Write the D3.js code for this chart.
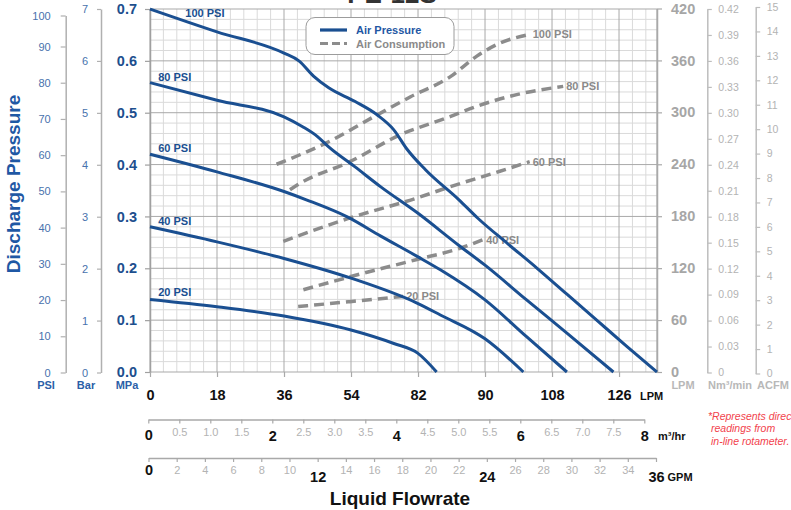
<!DOCTYPE html>
<html>
<head>
<meta charset="utf-8">
<script src="https://cdn.jsdelivr.net/npm/d3@7"></script>
<style>
  body { margin: 0; background: #fff; }
  svg { display: block; font-family: "Liberation Sans", Arial, Helvetica, sans-serif; }
</style>
</head>
<body>
<svg id="chart" width="791" height="510"></svg>
<script>
// ---- Pump performance data -------------------------------------------
// Discharge pressure curves (liquid flow in LPM, pressure in MPa)
const p100Flow = [0, 18, 36, 40, 44, 48, 55, 61, 65.5, 69, 74, 83, 88, 96, 104, 112, 120, 128, 136.2];
const p100MPa  = [0.70, 0.656, 0.615, 0.600, 0.570, 0.548, 0.522, 0.496, 0.467, 0.430, 0.390, 0.332, 0.297, 0.248, 0.200, 0.150, 0.100, 0.050, 0];
const p80Flow  = [0, 18, 36, 41, 45, 48, 55, 62, 72, 83, 90, 101, 112, 124.5];
const p80MPa   = [0.558, 0.524, 0.492, 0.473, 0.454, 0.434, 0.396, 0.357, 0.306, 0.244, 0.206, 0.140, 0.075, 0];
const p60Flow  = [0, 18, 36, 42, 53, 62, 72, 78, 90, 101, 112];
const p60MPa   = [0.420, 0.386, 0.348, 0.332, 0.299, 0.262, 0.222, 0.197, 0.139, 0.069, 0];
const p40Flow  = [0, 18, 36, 54, 72, 78, 90, 100.3];
const p40MPa   = [0.280, 0.251, 0.219, 0.181, 0.132, 0.110, 0.064, 0];
const p20Flow  = [0, 18, 36, 54, 65.5, 72, 77];
const p20MPa   = [0.140, 0.126, 0.108, 0.081, 0.055, 0.036, 0];
const pressureNames = ["100 PSI", "80 PSI", "60 PSI", "40 PSI", "20 PSI"];
const pressureLabelAt = [9.5, 2.2, 2.2, 2.2, 2.2];   // LPM where each curve name sits

// Air consumption curves (liquid flow in LPM, air in LPM)
const a100Flow = [34, 40.3, 47.5, 61, 70, 80.6, 87.8, 94, 102];
const a100Air  = [240, 251, 265, 297, 318, 341, 365, 380, 390];
const a80Flow  = [37.6, 40.3, 53.7, 67.2, 80.6, 87.8, 98.5, 111];
const a80Air   = [210.6, 218, 243, 274, 295, 307, 320.5, 330];
const a60Flow  = [35.8, 53.7, 71.7, 80.6, 94, 102];
const a60Air   = [151, 178, 201, 214, 232, 243];
const a40Flow  = [41.2, 53.7, 71.7, 83.3, 89.5];
const a40Air   = [95, 110, 130, 143, 153];
const a20Flow  = [39.8, 53.7, 68];
const a20Air   = [75.6, 81.3, 87.4];

// Axis ticks and labels
const psiTicks   = [0, 10, 20, 30, 40, 50, 60, 70, 80, 90, 100];
const barTicks   = [0, 1, 2, 3, 4, 5, 6, 7];
const mpaTicks   = [0, 0.1, 0.2, 0.3, 0.4, 0.5, 0.6, 0.7];
const airTicks   = [0, 60, 120, 180, 240, 300, 360, 420];
const nmTicks    = [0, 0.03, 0.06, 0.09, 0.12, 0.15, 0.18, 0.21, 0.24, 0.27, 0.30, 0.33, 0.36, 0.39, 0.42];
const acfmTicks  = [0, 1, 2, 3, 4, 5, 6, 7, 8, 9, 10, 11, 12, 13, 14, 15];
const lpmTicks   = [0, 18, 36, 54, 72, 90, 108, 126];
const lpmLabels  = ["0", "18", "36", "54", "82", "90", "108", "126"];
const m3Ticks    = [0, 0.5, 1, 1.5, 2, 2.5, 3, 3.5, 4, 4.5, 5, 5.5, 6, 6.5, 7, 7.5, 8];
const m3Major    = [0, 2, 4, 6, 8];
const gpmTicks   = [0, 2, 4, 6, 8, 10, 12, 14, 16, 18, 20, 22, 24, 26, 28, 30, 32, 34, 36];
const gpmMajor   = [0, 12, 24, 36];

// ---- Colours ---------------------------------------------------------
const BLUE = "#1a4f91";
const AXIS_BLUE = "#4872ad";
const DASH_GREY = "#8c8c8c";
const LIGHT = "#b3b3b3";

const svg = d3.select("#chart");

// ---- Scales ----------------------------------------------------------
const xMax = 136.2;
const x     = d3.scaleLinear().domain([0, xMax]).range([150, 657]);
const yMPa  = d3.scaleLinear().domain([0, 0.7]).range([372, 9]);
const yBar  = d3.scaleLinear().domain([0, 7]).range([372.5, 9]);
const yPSI  = d3.scaleLinear().domain([0, 90, 100]).range([372.5, 46.5, 15.5]);
const yAir  = d3.scaleLinear().domain([0, 420]).range([372, 8.5]);
const yNm   = d3.scaleLinear().domain([0, 0.42]).range([372.5, 9]);
const yAcfm = d3.scaleLinear().domain([0, 15]).range([373.5, 7]);
const xM3   = d3.scaleLinear().domain([0, 8]).range([148.3, 644.3]);
const xGPM  = d3.scaleLinear().domain([0, 36]).range([148.5, 656]);

// ---- Model name at the top (runs off the top edge) --------------------
svg.append("text").attr("x", 392).attr("y", 2.5).attr("text-anchor", "middle")
  .attr("font-size", 26).attr("font-weight", "bold").attr("fill", "#333")
  .text("PE-12S");

// ---- Grid ------------------------------------------------------------
const grid = svg.append("g");
const minorX = d3.range(0, xMax, 3.6).filter((v, i) => i % 5 !== 0);
const majorX = d3.range(0, xMax, 18);
const minorY = d3.range(0, 0.7001, 0.02).filter((v, i) => i % 5 !== 0);
const majorY = d3.range(0, 0.7001, 0.1);

grid.selectAll(".vmin").data(minorX).join("line")
  .attr("x1", d => x(d)).attr("x2", d => x(d)).attr("y1", yMPa(0)).attr("y2", yMPa(0.7))
  .attr("stroke", "#dadada").attr("stroke-width", 1);
grid.selectAll(".hmin").data(minorY).join("line")
  .attr("x1", x(0)).attr("x2", x(xMax)).attr("y1", d => yMPa(d)).attr("y2", d => yMPa(d))
  .attr("stroke", "#dadada").attr("stroke-width", 1);
grid.selectAll(".vmaj").data(majorX).join("line")
  .attr("x1", d => x(d)).attr("x2", d => x(d)).attr("y1", yMPa(0)).attr("y2", yMPa(0.7))
  .attr("stroke", "#a9a9a9").attr("stroke-width", 1);
grid.selectAll(".hmaj").data(majorY).join("line")
  .attr("x1", x(0)).attr("x2", x(xMax)).attr("y1", d => yMPa(d)).attr("y2", d => yMPa(d))
  .attr("stroke", "#a9a9a9").attr("stroke-width", 1);
grid.append("line").attr("x1", x(xMax)).attr("x2", x(xMax)).attr("y1", yMPa(0)).attr("y2", yMPa(0.7))
  .attr("stroke", "#a9a9a9").attr("stroke-width", 1.2);

// ---- Axis helper -----------------------------------------------------
function styleAxis(g, color, size, weight, lineColor) {
  g.attr("font-family", null).attr("font-size", null);
  g.select(".domain").attr("stroke", lineColor).attr("stroke-width", 1.5);
  g.selectAll(".tick line").attr("stroke", lineColor).attr("stroke-width", 1.2);
  g.selectAll(".tick text").attr("fill", color).attr("font-size", size).attr("font-weight", weight);
}

// Left axes: PSI, Bar, MPa
svg.append("g").attr("transform", "translate(65.7,0)")
  .call(d3.axisLeft(yPSI).tickValues(psiTicks).tickSize(5).tickSizeOuter(0).tickPadding(10)
    .tickFormat(d3.format("d")))
  .call(g => styleAxis(g, AXIS_BLUE, 11, "normal", "#b0b0b0"));
svg.append("g").attr("transform", "translate(101,0)")
  .call(d3.axisLeft(yBar).tickValues(barTicks).tickSize(4).tickSizeOuter(0).tickPadding(9)
    .tickFormat(d3.format("d")))
  .call(g => styleAxis(g, AXIS_BLUE, 11, "normal", "#b0b0b0"));
svg.append("g").attr("transform", "translate(150,0)")
  .call(d3.axisLeft(yMPa).tickValues(mpaTicks).tickSize(5).tickSizeOuter(0).tickPadding(8).tickFormat(d3.format(".1f")))
  .call(g => styleAxis(g, "#1d4f8e", 14.5, "bold", "#a0a0a0"));

// Right axes: air LPM, Nm³/min, ACFM
svg.append("g").attr("transform", "translate(657,0)")
  .call(d3.axisRight(yAir).tickValues(airTicks).tickSize(5).tickSizeOuter(0).tickPadding(9)
    .tickFormat(d3.format("d")))
  .call(g => styleAxis(g, "#a6a6a6", 14.5, "bold", "#a9a9a9"));
svg.append("g").attr("transform", "translate(707.3,0)")
  .call(d3.axisRight(yNm).tickValues(nmTicks).tickSize(4.5).tickSizeOuter(0).tickPadding(6.5)
    .tickFormat(d => d === 0 ? "0" : d.toFixed(2)))
  .call(g => styleAxis(g, LIGHT, 10.5, "normal", "#bdbdbd"));
svg.append("g").attr("transform", "translate(755.7,0)")
  .call(d3.axisRight(yAcfm).tickValues(acfmTicks).tickSize(4.5).tickSizeOuter(0).tickPadding(6.5)
    .tickFormat(d3.format("d")))
  .call(g => styleAxis(g, LIGHT, 10.5, "normal", "#bdbdbd"));

// Bottom liquid-flow axes
const lpmAxis = svg.append("g").attr("transform", "translate(0,372)")
  .call(d3.axisBottom(x).tickValues(lpmTicks).tickSize(5).tickSizeOuter(0)
    .tickFormat((d, i) => lpmLabels[i]));
styleAxis(lpmAxis, "#111", 14.5, "bold", "#a9a9a9");
lpmAxis.select(".domain").remove();
lpmAxis.selectAll(".tick text").attr("dy", null).attr("y", 28);

const m3Axis = svg.append("g").attr("transform", "translate(0,419.5)")
  .call(d3.axisBottom(xM3).tickValues(m3Ticks).tickSize(4).tickSizeOuter(0)
    .tickFormat(d => m3Major.includes(d) ? String(d) : d.toFixed(1)));
styleAxis(m3Axis, "#111", 14.5, "bold", "#a9a9a9");
m3Axis.selectAll(".tick text").attr("dy", null)
  .attr("y", d => m3Major.includes(d) ? (d === 0 ? 20.5 : 21.5) : 16.5)
  .attr("fill", d => m3Major.includes(d) ? "#111" : LIGHT)
  .attr("font-size", d => m3Major.includes(d) ? 14.5 : 11)
  .attr("font-weight", d => m3Major.includes(d) ? "bold" : "normal");

const gpmAxis = svg.append("g").attr("transform", "translate(0,458)")
  .call(d3.axisBottom(xGPM).tickValues(gpmTicks).tickSize(4).tickSizeOuter(0));
styleAxis(gpmAxis, "#111", 14.5, "bold", "#a9a9a9");
gpmAxis.selectAll(".tick text").attr("dy", null)
  .attr("y", d => gpmMajor.includes(d) ? (d === 0 ? 17 : 24) : 16)
  .attr("fill", d => gpmMajor.includes(d) ? "#111" : LIGHT)
  .attr("font-size", d => gpmMajor.includes(d) ? 14.5 : 11)
  .attr("font-weight", d => gpmMajor.includes(d) ? "bold" : "normal");

// Unit labels
function label(txt, lx, ly, opts) {
  const t = svg.append("text").attr("x", lx).attr("y", ly)
    .attr("font-size", opts.size || 11).attr("font-weight", opts.weight || "bold")
    .attr("fill", opts.fill).attr("text-anchor", opts.anchor || "start");
  if (opts.italic) t.attr("font-style", "italic");
  t.text(txt);
  return t;
}
label("PSI", 46, 389, { fill: "#2b5fa8", anchor: "middle" });
label("Bar", 86, 389, { fill: "#2b5fa8", anchor: "middle" });
label("MPa", 127, 389, { fill: "#2b5fa8", anchor: "middle" });
label("LPM", 683, 389, { fill: "#b8b8b8", anchor: "middle" });
label("Nm³/min", 730, 389, { fill: "#b8b8b8", anchor: "middle" });
label("ACFM", 773, 389, { fill: "#b8b8b8", anchor: "middle" });
label("LPM", 640, 399.5, { fill: "#111" });
label("m³/hr", 658, 440, { fill: "#111" });
label("GPM", 667.5, 481, { fill: "#111" });

// Axis titles
label("Liquid Flowrate", 400, 505, { fill: "#111", size: 19, anchor: "middle" });
svg.append("text").attr("transform", "translate(20,184) rotate(-90)")
  .attr("text-anchor", "middle").attr("font-size", 19).attr("font-weight", "bold")
  .attr("fill", "#1f58a4").text("Discharge Pressure");

// Footnote (runs past the right edge)
label("*Represents direct", 708, 419.5, { fill: "#f2434d", size: 10.5, weight: "normal", italic: true });
label("readings from", 711, 432, { fill: "#f2434d", size: 10.5, weight: "normal", italic: true });
label("in-line rotameter.", 711, 444.5, { fill: "#f2434d", size: 10.5, weight: "normal", italic: true });

// ---- Air consumption curves (dashed) ---------------------------------
const airSeries = [
  [a100Flow, a100Air], [a80Flow, a80Air], [a60Flow, a60Air], [a40Flow, a40Air], [a20Flow, a20Air]
];
const airLine = d3.line().x(d => x(d[0])).y(d => yAir(d[1])).curve(d3.curveMonotoneX);
airSeries.forEach(([fl, air], i) => {
  const pts = fl.map((f, j) => [f, air[j]]);
  svg.append("path").attr("d", airLine(pts)).attr("fill", "none")
    .attr("stroke", DASH_GREY).attr("stroke-width", 3.5).attr("stroke-dasharray", "10,6");
  const last = pts[pts.length - 1];
  svg.append("text").attr("x", x(last[0]) + 3).attr("y", yAir(last[1]) + 4)
    .attr("font-size", 11).attr("font-weight", "bold").attr("fill", "#8a8a8a")
    .text(pressureNames[i]);
});

// ---- Discharge pressure curves (solid) -------------------------------
const pSeries = [
  [p100Flow, p100MPa], [p80Flow, p80MPa], [p60Flow, p60MPa], [p40Flow, p40MPa], [p20Flow, p20MPa]
];
const pLine = d3.line().x(d => x(d[0])).y(d => yMPa(d[1])).curve(d3.curveMonotoneX);
pSeries.forEach(([fl, mpa], i) => {
  const pts = fl.map((f, j) => [f, mpa[j]]);
  svg.append("path").attr("d", pLine(pts)).attr("fill", "none")
    .attr("stroke", BLUE).attr("stroke-width", 3);
  const at = pressureLabelAt[i];
  const yAt = d3.scaleLinear().domain(fl).range(mpa)(at);
  svg.append("text").attr("x", x(at)).attr("y", yMPa(yAt) - 4)
    .attr("font-size", 11).attr("font-weight", "bold").attr("fill", BLUE)
    .text(pressureNames[i]);
});

// ---- Legend ----------------------------------------------------------
const lg = svg.append("g");
lg.append("rect").attr("x", 306).attr("y", 17.5).attr("width", 148).attr("height", 37)
  .attr("rx", 9).attr("fill", "#fff").attr("stroke", "#9c9c9c").attr("stroke-width", 1);
lg.append("line").attr("x1", 320).attr("x2", 347).attr("y1", 30).attr("y2", 30)
  .attr("stroke", BLUE).attr("stroke-width", 3.2);
lg.append("line").attr("x1", 320).attr("x2", 347).attr("y1", 43.5).attr("y2", 43.5)
  .attr("stroke", DASH_GREY).attr("stroke-width", 3.2).attr("stroke-dasharray", "8,4");
lg.append("text").attr("x", 356).attr("y", 34).attr("font-size", 11).attr("font-weight", "bold")
  .attr("fill", "#1f58a4").text("Air Pressure");
lg.append("text").attr("x", 356).attr("y", 47.5).attr("font-size", 11).attr("font-weight", "bold")
  .attr("fill", "#8a8a8a").text("Air Consumption");
</script>
</body>
</html>
